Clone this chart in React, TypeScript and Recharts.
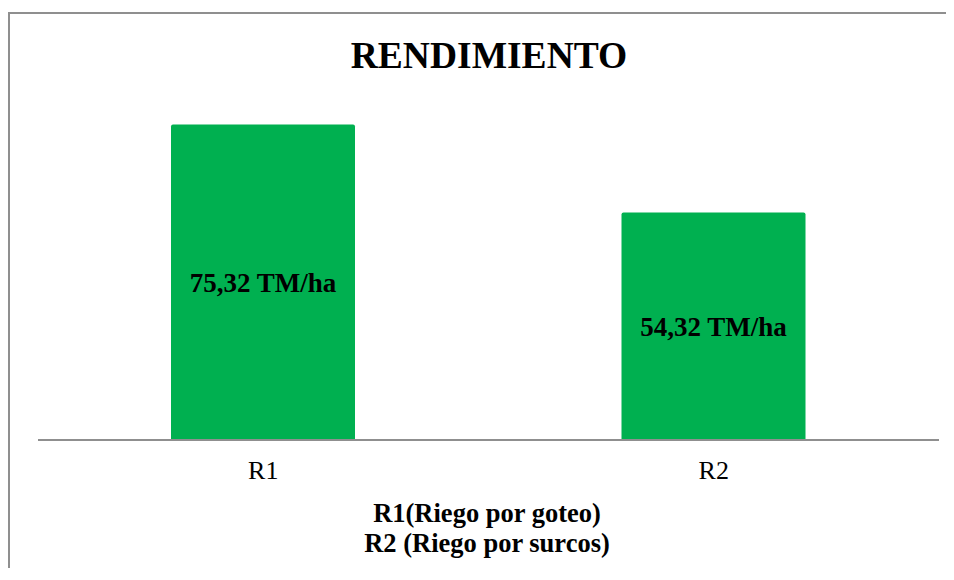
import { BarChart, Bar, XAxis, YAxis, LabelList, Customized } from "recharts";

const categories = ["R1", "R2"];
const yieldValues = [75.32, 54.32];
const unit = "TM/ha";
const chartTitle = "RENDIMIENTO";
const footerLines = ["R1(Riego por goteo)", "R2 (Riego por surcos)"];

const FONT = '"Liberation Serif", "Times New Roman", serif';
const GREEN = "#00B050";
const GREY = "#8f8f8f";

const data = categories.map((name, i) => ({ name, value: yieldValues[i] }));

const fmt = (v: number) => `${v.toFixed(2).replace(".", ",")} ${unit}`;

function Texts() {
  return (
    <g fontFamily={FONT} fontWeight="bold" fill="#000">
      <text x={481} y={60} textAnchor="middle" fontSize={37.5}>
        {chartTitle}
      </text>
      {footerLines.map((line, i) => (
        <text key={line} x={479} y={514 + i * 30} textAnchor="middle" fontSize={26.5}>
          {line}
        </text>
      ))}
    </g>
  );
}

export default function App() {
  return (
    <div style={{ position: "relative", width: 938, height: 560, fontFamily: FONT }}>
      <style>{`html, body { overflow: hidden; }`}</style>
      <div
        style={{
          position: "absolute",
          left: 0,
          top: 4,
          width: 946,
          height: 568,
          borderLeft: `2px solid ${GREY}`,
          borderTop: `2px solid ${GREY}`,
          boxSizing: "border-box",
        }}
      />
      <BarChart
        width={938}
        height={564}
        data={data}
        margin={{ top: 97, right: 7, left: 30, bottom: 72 }}
        style={{ position: "absolute", left: 0, top: 0 }}
      >
        <XAxis
          dataKey="name"
          height={60}
          tickLine={false}
          tickSize={0}
          tickMargin={21}
          axisLine={{ stroke: GREY, strokeWidth: 2 }}
          tick={{ fill: "#000", fontSize: 26, fontFamily: FONT }}
        />
        <YAxis hide domain={[0, 80]} />
        <Bar dataKey="value" fill={GREEN} barSize={184} radius={[2, 2, 0, 0]} isAnimationActive={false}>
          <LabelList
            dataKey="value"
            position="center"
            formatter={(v: any) => fmt(Number(v))}
            style={{ fill: "#000", fontSize: 27, fontWeight: "bold", fontFamily: FONT }}
          />
        </Bar>
        <Customized component={Texts} />
      </BarChart>
    </div>
  );
}
